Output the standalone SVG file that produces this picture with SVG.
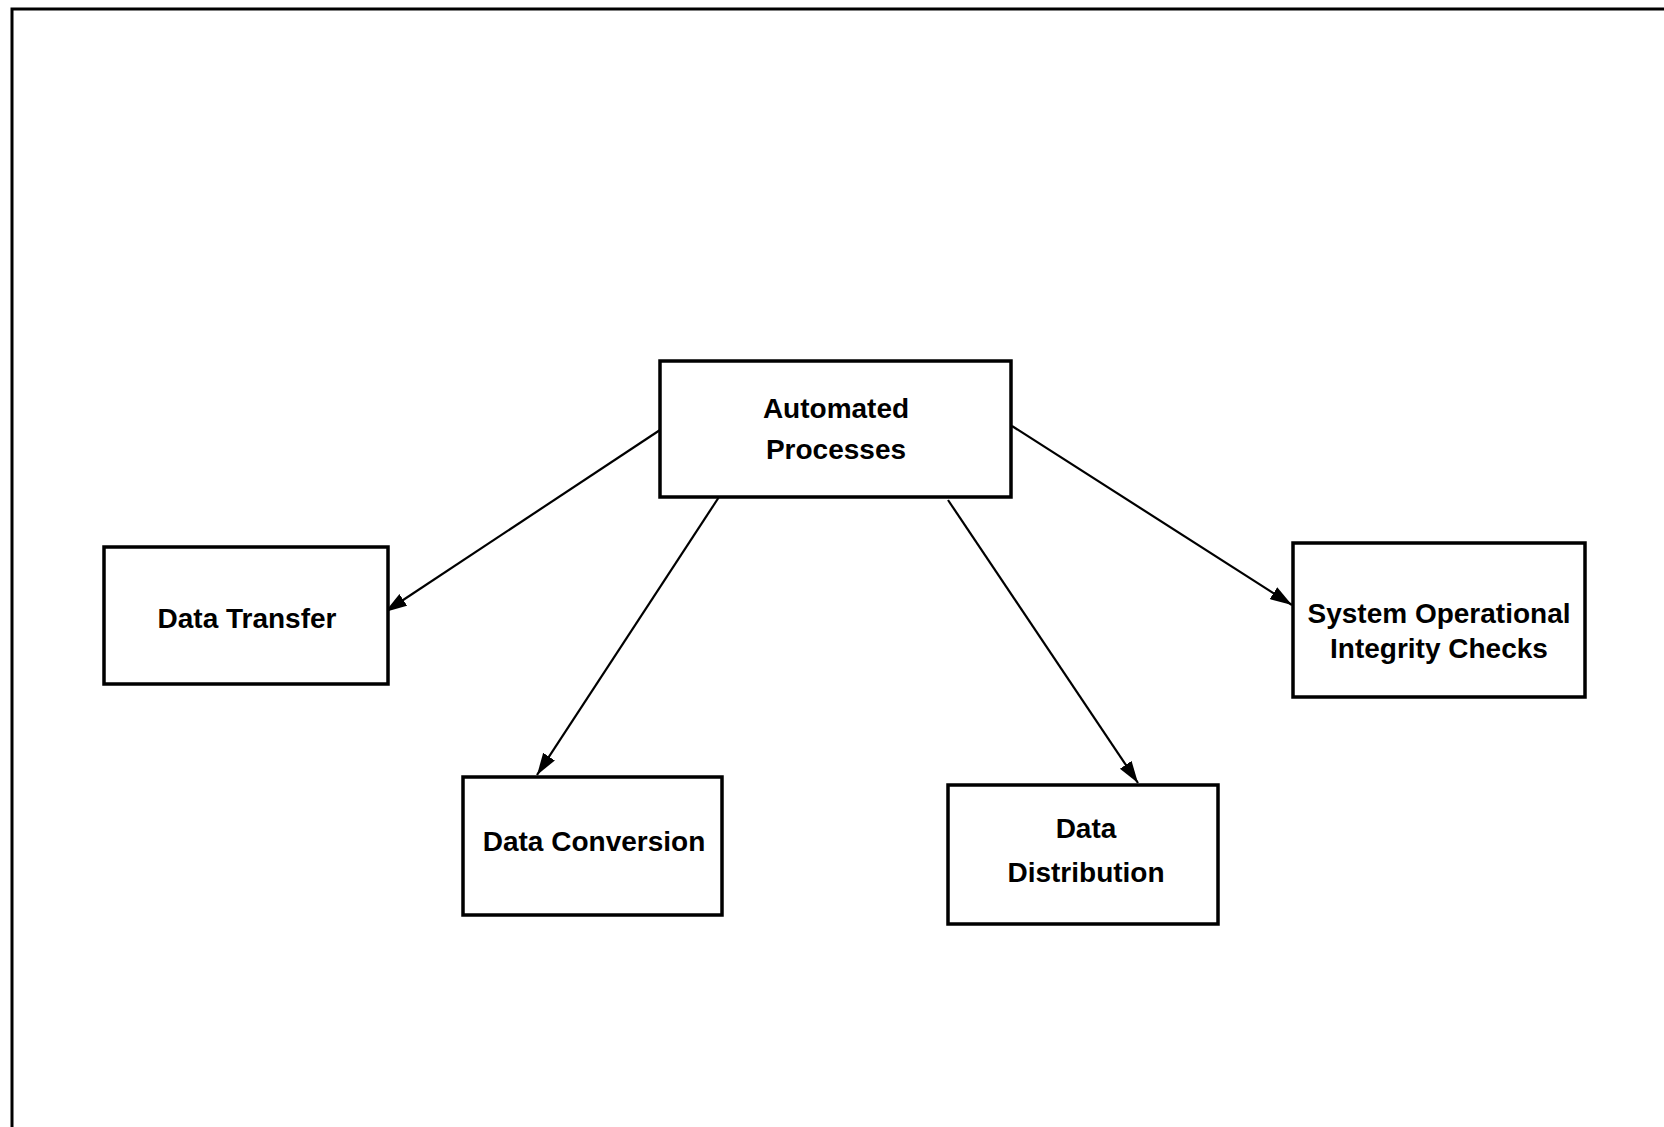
<svg xmlns="http://www.w3.org/2000/svg" width="1664" height="1127" viewBox="0 0 1664 1127">
<style>
.box{fill:#fff;stroke:#000;stroke-width:3.5}
.lbl{font-family:"Liberation Sans",Arial,sans-serif;font-weight:bold;font-size:28px;fill:#000;text-anchor:middle}
.edge{stroke:#000;stroke-width:2.2;fill:none}
</style>
<defs>
<marker id="ah" markerUnits="userSpaceOnUse" markerWidth="24" markerHeight="16" refX="22" refY="7" orient="auto">
<path d="M0,0 L22,7 L0,14 Z" fill="#000"/>
</marker>
</defs>
<rect width="1664" height="1127" fill="#fff"/>
<g id="frame">
<polyline points="1664,9 12,9 12,1127" fill="none" stroke="#000" stroke-width="3"/>
</g>
<g id="connectors">
<line class="edge" x1="660" y1="430" x2="385" y2="612" marker-end="url(#ah)"/>
<line class="edge" x1="719" y1="497" x2="537" y2="775" marker-end="url(#ah)"/>
<line class="edge" x1="948" y1="500" x2="1138" y2="783" marker-end="url(#ah)"/>
<line class="edge" x1="1012" y1="426" x2="1292" y2="605" marker-end="url(#ah)"/>
</g>
<g id="automated">
<rect class="box" x="660" y="361" width="351" height="136"/>
<text class="lbl" x="836" y="418">Automated</text>
<text class="lbl" x="836" y="459">Processes</text>
</g>
<g id="transfer">
<rect class="box" x="104" y="547" width="284" height="137"/>
<text class="lbl" x="247" y="628">Data Transfer</text>
</g>
<g id="conversion">
<rect class="box" x="463" y="777" width="259" height="138"/>
<text class="lbl" x="594" y="851">Data Conversion</text>
</g>
<g id="distribution">
<rect class="box" x="948" y="785" width="270" height="139"/>
<text class="lbl" x="1086" y="838">Data</text>
<text class="lbl" x="1086" y="882">Distribution</text>
</g>
<g id="integrity">
<rect class="box" x="1293" y="543" width="292" height="154"/>
<text class="lbl" x="1439" y="623">System Operational</text>
<text class="lbl" x="1439" y="658">Integrity Checks</text>
</g>
</svg>
